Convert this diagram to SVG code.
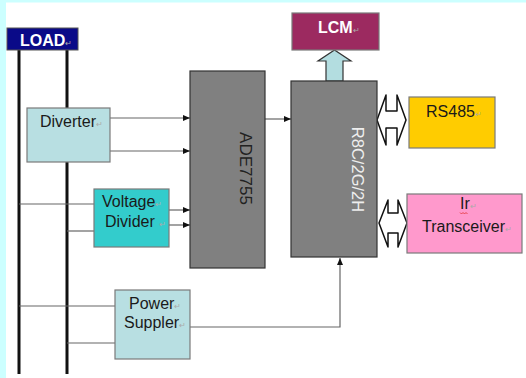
<svg xmlns="http://www.w3.org/2000/svg" width="526" height="378" viewBox="0 0 526 378">
<defs>
<marker id="ah" markerWidth="7" markerHeight="6" refX="7" refY="3" orient="auto" markerUnits="userSpaceOnUse">
<path d="M0,0 L7,3 L0,6 Z" fill="#111"/>
</marker>
<style>
.t{font-family:"Liberation Sans",Arial,sans-serif;font-size:16px;fill:#1a1a1a}
.w{fill:#ffffff;font-weight:bold}
.rm{font-size:8px;fill:#aaaaaa;font-weight:normal}
.box{stroke:#7a7a7a;stroke-width:1.2}
.chip{fill:#808080;stroke:#333;stroke-width:1.2}
.ln{stroke:#666;stroke-width:1.2;fill:none}
.bus{stroke:#111;stroke-width:3;fill:none}
.dbl{fill:#ffffff;stroke:#111;stroke-width:1.5;stroke-linejoin:round}
</style>
</defs>
<rect width="526" height="378" fill="#ffffff"/>
<rect x="0" y="0" width="526" height="2.5" fill="#ccffff"/>
<rect x="0" y="0" width="6" height="378" fill="#ccffff"/>

<g id="connectors">
<line class="bus" x1="19" y1="50" x2="19" y2="374"/>
<line class="bus" x1="67" y1="50" x2="67" y2="374"/>
<line class="ln" x1="110" y1="118" x2="190" y2="118" marker-end="url(#ah)"/>
<line class="ln" x1="110" y1="151" x2="190" y2="151" stroke="#222" marker-end="url(#ah)"/>
<line class="ln" x1="19" y1="204" x2="94" y2="204" stroke="#444"/>
<line class="ln" x1="67" y1="231" x2="94" y2="231" stroke="#777"/>
<line class="ln" x1="169" y1="210" x2="190" y2="210" marker-end="url(#ah)"/>
<line class="ln" x1="169" y1="225" x2="190" y2="225" marker-end="url(#ah)"/>
<line class="ln" x1="19" y1="306" x2="115" y2="306" stroke="#111"/>
<line class="ln" x1="67" y1="343" x2="115" y2="343" stroke="#777"/>
<line class="ln" x1="265" y1="119" x2="291" y2="119" marker-end="url(#ah)"/>
<polyline class="ln" points="190,327 340,327 340,258" stroke="#777" marker-end="url(#ah)"/>
<polygon points="326,81 326,61 318,61 334.5,50 351,61 343,61 343,81" fill="#b3dde0" stroke="#333" stroke-width="1.2"/>
<polygon class="dbl" points="377,120 386,95 386,111 397,111 397,95 406,120 397,145 397,128 386,128 386,145"/>
<polygon class="dbl" points="379,223 388,200 388,213 398,213 398,200 407,223 398,247 398,233 388,233 388,247"/>
</g>

<g id="load">
<rect x="7" y="28" width="71" height="22" fill="#0a0a88" stroke="#555" stroke-width="1"/>
<text class="t w" x="20" y="46">LOAD<tspan class="rm">↵</tspan></text>
</g>

<g id="diverter">
<rect class="box" x="27" y="108" width="83" height="54" fill="#b8dfe2"/>
<text class="t" x="40" y="127">Diverter<tspan class="rm">↵</tspan></text>
</g>

<g id="voltage-divider">
<rect class="box" x="94" y="189" width="75" height="58" fill="#33cccc"/>
<text class="t" x="102" y="207">Voltage<tspan class="rm">↵</tspan></text>
<text class="t" x="105" y="227">Divider <tspan class="rm">↵</tspan></text>
</g>

<g id="power-suppler">
<rect class="box" x="115" y="290" width="75" height="69" fill="#b8dfe2"/>
<text class="t" x="129" y="309">Power<tspan class="rm">↵</tspan></text>
<text class="t" x="124" y="328">Suppler<tspan class="rm">↵</tspan></text>
</g>

<g id="ade7755">
<rect class="chip" x="190" y="71" width="75" height="197"/>
<text class="t" style="font-size:17px;fill:#222" text-anchor="middle" transform="translate(240,168.5) rotate(90)">ADE7755</text>
</g>

<g id="mcu">
<rect class="chip" x="291" y="81" width="86" height="176"/>
<text class="t" style="font-size:16.5px;fill:#eeeeee" text-anchor="middle" transform="translate(352,169.5) rotate(90)">R8C/2G/2H</text>
</g>

<g id="lcm">
<rect class="box" x="292" y="13" width="87" height="37" fill="#9c2a60" stroke="#555"/>
<text class="t w" x="318" y="33">LCM<tspan class="rm">↵</tspan></text>
</g>

<g id="rs485">
<rect class="box" x="409" y="97" width="86" height="51" fill="#ffcc00" stroke="#8a7a30"/>
<text class="t" x="426" y="117">RS485<tspan class="rm">↵</tspan></text>
</g>

<g id="ir-transceiver">
<rect class="box" x="407" y="194" width="115" height="59" fill="#ff99cc" stroke="#666"/>
<text class="t" x="460" y="209">Ir<tspan class="rm">↵</tspan></text>
<path d="M460,212.5 l1.5,1.5 l1.5,-1.5 l1.5,1.5 l1.5,-1.5 l1.5,1.5" fill="none" stroke="#e03030" stroke-width="0.8"/>
<text class="t" x="422" y="232">Transceiver<tspan class="rm">↵</tspan></text>
</g>
</svg>
